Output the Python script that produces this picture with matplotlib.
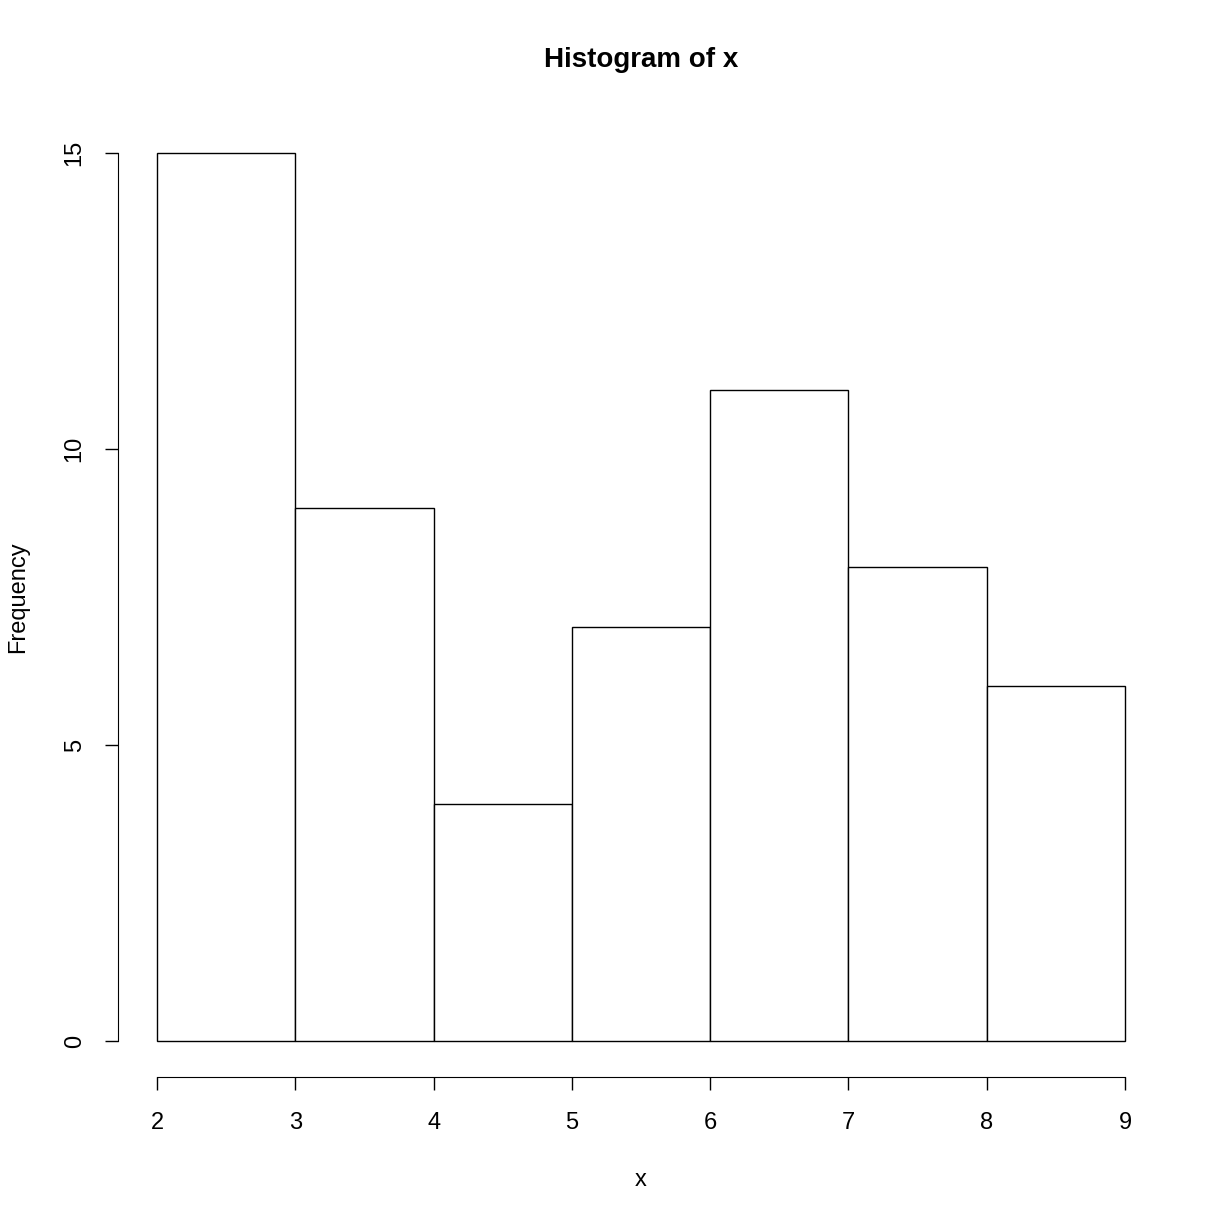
import matplotlib
matplotlib.use("Agg")
import matplotlib.pyplot as plt

# histogram data
bin_edges = [2, 3, 4, 5, 6, 7, 8, 9]
counts = [15, 9, 4, 7, 11, 8, 6]
x_ticks = [2, 3, 4, 5, 6, 7, 8, 9]
y_ticks = [0, 5, 10, 15]

plt.rcParams['font.family'] = ['Liberation Sans', 'DejaVu Sans']

fig = plt.figure(figsize=(12.24, 12.24), dpi=100)
ax = fig.add_axes([0.0967, 0.1205, 0.854, 0.7835])

ax.bar(bin_edges[:-1], counts, width=1, align='edge',
       facecolor='white', edgecolor='black', linewidth=1.0)

# R style: 4% padding, axis lines only between first and last tick
ax.set_xlim(1.72, 9.28)
ax.set_ylim(-0.6, 15.6)
ax.spines['top'].set_visible(False)
ax.spines['right'].set_visible(False)
ax.spines['bottom'].set_bounds(2, 9)
ax.spines['left'].set_bounds(0, 15)
ax.set_xticks(x_ticks)
ax.set_yticks(y_ticks)
ax.set_yticklabels([str(v) for v in y_ticks], rotation=90, va='center')
ax.tick_params(direction='out', length=9.5, width=1.0, labelsize=17)
ax.tick_params(axis='x', pad=16)
ax.tick_params(axis='y', pad=14)

# titles centred over the plot region, like R's mtext lines
cx = 0.0967 + 0.854 / 2
fig.text(cx, 1 - 60 / 1224, 'Histogram of x', fontsize=20, fontweight='bold',
         ha='center', va='center')
fig.text(cx, 1 - 1180 / 1224, 'x', fontsize=17, ha='center', va='center')
fig.text(18 / 1224, 1 - 597 / 1224, 'Frequency', fontsize=17, rotation=90,
         ha='center', va='center')

fig.savefig('out.png', dpi=100)
